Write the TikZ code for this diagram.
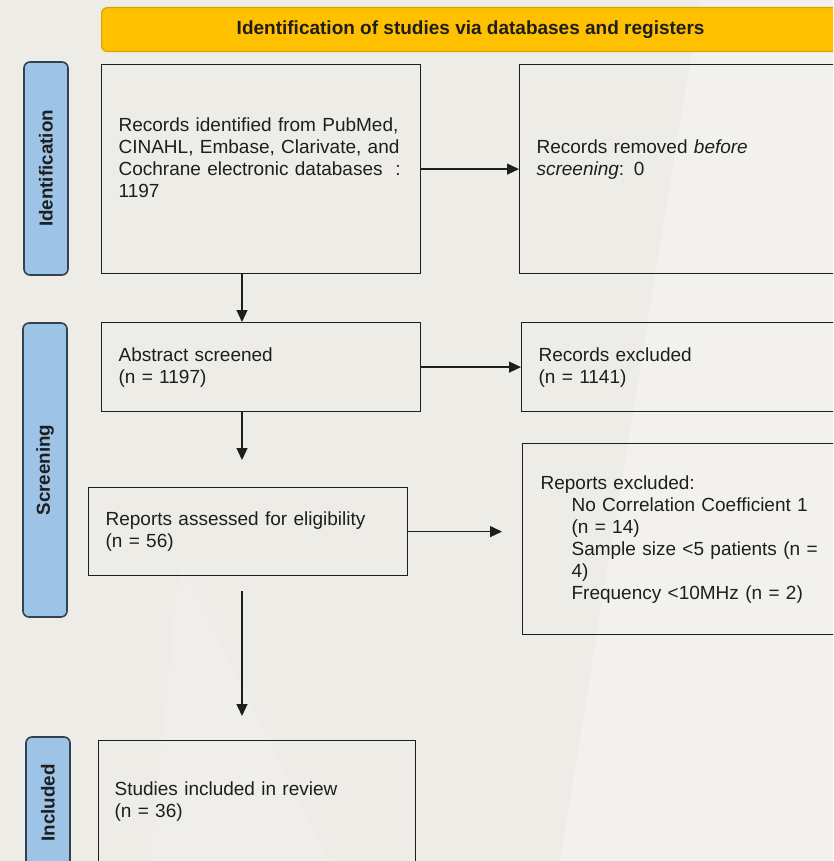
\documentclass[tikz,border=0pt]{standalone}
\usepackage{fontspec}
\setmainfont{Liberation Sans}
\usetikzlibrary{arrows.meta}
\definecolor{Back}{HTML}{EEECE7}
\definecolor{Sheen}{HTML}{F2F1ED}
\definecolor{Ink}{HTML}{1E1E1E}
\definecolor{Banner}{HTML}{FFC000}
\definecolor{BannerEdge}{HTML}{D9A300}
\definecolor{Phase}{HTML}{9DC3E6}
\definecolor{PhaseEdge}{HTML}{34424F}
\newcommand{\exind}{\hspace*{31pt}}

\begin{document}
\begin{tikzpicture}[x=1pt,y=-1pt,
        card/.style={draw=Ink,line width=1.2pt,anchor=north west,align=left,
          inner xsep=17pt,inner ysep=0pt,text=Ink,font=\fontsize{19}{22}\selectfont},
        phase/.style={draw=PhaseEdge,fill=Phase,line width=1.6pt,rounded corners=6pt,
          rotate=90,minimum height=44pt,inner sep=0pt,text=Ink,
          font=\fontsize{18.8}{22}\selectfont\bfseries},
        arrow/.style={draw=Ink,line width=1.3pt,-{Triangle[length=12pt,width=11pt]}}]
        \useasboundingbox (0,0) rectangle (833,861);
        \clip (0,0) rectangle (833,861);
        \fill[Back] (0,0) rectangle (833,861);
        \fill[Sheen] (560,861) -- (700,0) -- (833,0) -- (833,861) -- cycle;
        \fill[Sheen,opacity=0.5] (150,861) -- (330,861) -- (180,560) -- cycle;
        \node[draw=BannerEdge,fill=Banner,line width=1.2pt,rounded corners=6pt,anchor=north west,
          minimum width=738pt,minimum height=44pt,text=Ink,
          font=\fontsize{19}{22}\selectfont\bfseries] (banner) at (101,7)
          {Identification of studies via databases and registers};
        \node[phase,minimum width=213pt] (idlab) at (46,168.5) {Identification};
        \node[phase,minimum width=294pt] (sclab) at (45,470) {Screening};
        \node[phase,minimum width=132pt] (inlab) at (48,803) {Included};
        \node[card,text width=285pt,minimum height=209pt] (records) at (101,64)
          {\mbox{Records identified from PubMed,}\\\mbox{CINAHL, Embase, Clarivate, and}\\
           \mbox{Cochrane electronic databases~~:}\\1197\\\mbox{}};
        \node[card,text width=286pt,minimum height=209pt] (removed) at (519,64)
          {Records removed \textit{before}\\\textit{screening}: 0\\\mbox{}};
        \node[card,text width=285pt,minimum height=89pt] (screened) at (101,322)
          {Abstract screened\\(n = 1197)};
        \node[card,text width=284pt,minimum height=89pt] (excluded) at (521,322)
          {Records excluded\\(n = 1141)};
        \node[card,text width=285pt,minimum height=88pt] (assessed) at (88,487)
          {Reports assessed for eligibility\\(n = 56)};
        \node[card,text width=282pt,minimum height=191pt,inner xsep=18pt] (reports) at (522,443)
          {Reports excluded:\\\exind No Correlation Coefficient 1\\\exind (n = 14)\\
           \exind \mbox{Sample size <5 patients (n =}\\\exind 4)\\\exind Frequency <10MHz (n = 2)};
        \node[card,text width=285pt,minimum height=122pt,inner xsep=16pt] (included) at (98,740)
          {Studies included in review\\(n = 36)};
        \coordinate (spine) at (242,0);
        \draw[arrow] (records.east) -- (removed.west);
        \draw[arrow] (screened.east) -- (excluded.west);
        \draw[arrow] (assessed.east) -- ([xshift=-20pt]assessed.east -| reports.west);
        \draw[arrow] (spine |- records.south) -- (spine |- screened.north);
        \draw[arrow] (spine |- screened.south) -- ([yshift=27pt]spine |- assessed.north);
        \draw[arrow] ([yshift=-15pt]spine |- assessed.south) -- ([yshift=24pt]spine |- included.north);
      \end{tikzpicture}
\end{document}
